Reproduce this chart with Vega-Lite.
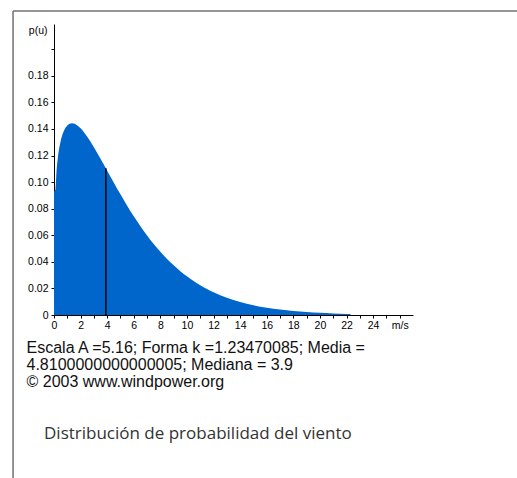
{
  "$schema": "https://vega.github.io/schema/vega-lite/v6.json",
  "autosize": {"type": "none"},
  "padding": {"left": 54, "top": 24, "right": 104, "bottom": 163},
  "width": 359,
  "height": 291,
  "background": "white",
  "config": {"view": {"stroke": null}, "axis": {"labelOverlap": false}},
  "title": {
    "text": "Distribución de probabilidad del viento",
    "orient": "bottom",
    "anchor": "start",
    "frame": "group",
    "dx": -10,
    "offset": -40,
    "baseline": "alphabetic",
    "font": "Open Sans",
    "fontSize": 17,
    "fontWeight": "normal",
    "color": "#333333"
  },
  "datasets": {
    "curve": [
      {"u": 0, "p": 0.093},
      {"u": 0.1, "p": 0.0941},
      {"u": 0.2, "p": 0.1096},
      {"u": 0.3, "p": 0.1191},
      {"u": 0.5, "p": 0.1308},
      {"u": 0.75, "p": 0.1387},
      {"u": 1.0, "p": 0.1427},
      {"u": 1.35, "p": 0.1443},
      {"u": 1.75, "p": 0.1427},
      {"u": 2.0, "p": 0.1405},
      {"u": 2.5, "p": 0.1341},
      {"u": 3.0, "p": 0.1263},
      {"u": 3.5, "p": 0.1176},
      {"u": 3.9, "p": 0.1104},
      {"u": 4.0, "p": 0.1086},
      {"u": 4.5, "p": 0.0996},
      {"u": 5.0, "p": 0.0908},
      {"u": 5.5, "p": 0.0823},
      {"u": 6.0, "p": 0.0743},
      {"u": 6.5, "p": 0.0668},
      {"u": 7.0, "p": 0.0599},
      {"u": 7.5, "p": 0.0534},
      {"u": 8.0, "p": 0.0476},
      {"u": 8.5, "p": 0.0422},
      {"u": 9.0, "p": 0.0374},
      {"u": 9.5, "p": 0.0330},
      {"u": 10.0, "p": 0.0291},
      {"u": 10.5, "p": 0.0255},
      {"u": 11.0, "p": 0.0224},
      {"u": 11.5, "p": 0.0196},
      {"u": 12.0, "p": 0.0171},
      {"u": 13.0, "p": 0.0130},
      {"u": 14.0, "p": 0.0098},
      {"u": 15.0, "p": 0.0073},
      {"u": 16.0, "p": 0.0055},
      {"u": 17.0, "p": 0.0041},
      {"u": 18.0, "p": 0.0030},
      {"u": 19.0, "p": 0.0022},
      {"u": 20.0, "p": 0.0016},
      {"u": 21.0, "p": 0.0012},
      {"u": 22.0, "p": 0.0008},
      {"u": 22.3, "p": 0.0008}
    ],
    "median": [{"u": 3.9, "p": 0.1104}]
  },
  "layer": [
    {
      "data": {"name": "curve"},
      "mark": {"type": "area", "color": "#0066cc", "interpolate": "monotone"},
      "encoding": {
        "x": {
          "field": "u",
          "type": "quantitative",
          "scale": {"domain": [0, 27], "nice": false, "zero": false},
          "axis": {
            "values": [0,1,2,3,4,5,6,7,8,9,10,11,12,13,14,15,16,17,18,19,20,21,22,23,24,25,26],
            "tickCount": 100,
            "format": "d",
            "labelExpr": "datum.value == 26 ? 'm/s' : (datum.value % 2 == 0 ? format(datum.value, 'd') : '')",
            "grid": false,
            "domainColor": "#000000",
            "tickColor": "#000000",
            "tickSize": 3,
            "labelPadding": 2,
            "labelFont": "Liberation Sans",
            "labelFontSize": 10.5,
            "labelColor": "#000000",
            "labelOverlap": false,
            "labelFlush": false,
            "title": [
              "Escala A =5.16; Forma k =1.23470085; Media =",
              "4.8100000000000005; Mediana = 3.9",
              "© 2003 www.windpower.org"
            ],
            "titleFont": "Liberation Sans",
            "titleFontSize": 16,
            "titleFontWeight": "normal",
            "titleColor": "#111111",
            "titleAlign": "left",
            "titleAnchor": "start",
            "titleBaseline": "alphabetic",
            "titleLineHeight": 17.3,
            "titleX": -28,
            "titleY": 37
          }
        },
        "y": {
          "field": "p",
          "type": "quantitative",
          "scale": {"domain": [0, 0.219], "nice": false},
          "axis": {
            "values": [0, 0.02, 0.04, 0.06, 0.08, 0.1, 0.12, 0.14, 0.16, 0.18, 0.2],
            "tickCount": 100,
            "labelExpr": "datum.value == 0 ? '0' : (datum.value > 0.19 ? '' : format(datum.value, '.2f'))",
            "grid": false,
            "domainColor": "#000000",
            "tickColor": "#000000",
            "tickSize": 3,
            "labelPadding": 3,
            "labelFont": "Liberation Sans",
            "labelFontSize": 10.5,
            "labelColor": "#000000",
            "labelOverlap": false,
            "labelFlush": false,
            "title": "p(u)",
            "titleFont": "Liberation Sans",
            "titleFontSize": 10.5,
            "titleFontWeight": "normal",
            "titleColor": "#000000",
            "titleAngle": 0,
            "titleAlign": "right",
            "titleBaseline": "middle",
            "titleX": -7,
            "titleY": 6
          }
        }
      }
    },
    {
      "data": {"name": "median"},
      "mark": {"type": "rule", "color": "#000000", "strokeWidth": 1.5},
      "encoding": {
        "x": {"field": "u", "type": "quantitative"},
        "y": {"field": "p", "type": "quantitative"},
        "y2": {"datum": 0}
      }
    },
    {
      "data": {"values": [{}]},
      "mark": {"type": "rule", "color": "#707070", "strokeWidth": 1.5, "clip": false},
      "encoding": {
        "x": {"datum": -3.08, "type": "quantitative"},
        "x2": {"datum": 36},
        "y": {"datum": 0.2288, "type": "quantitative"}
      }
    },
    {
      "data": {"values": [{}]},
      "mark": {"type": "rule", "color": "#707070", "strokeWidth": 1.5, "clip": false},
      "encoding": {
        "x": {"datum": -3.08, "type": "quantitative"},
        "y": {"datum": 0.2288, "type": "quantitative"},
        "y2": {"datum": -0.1227}
      }
    }
  ]
}
